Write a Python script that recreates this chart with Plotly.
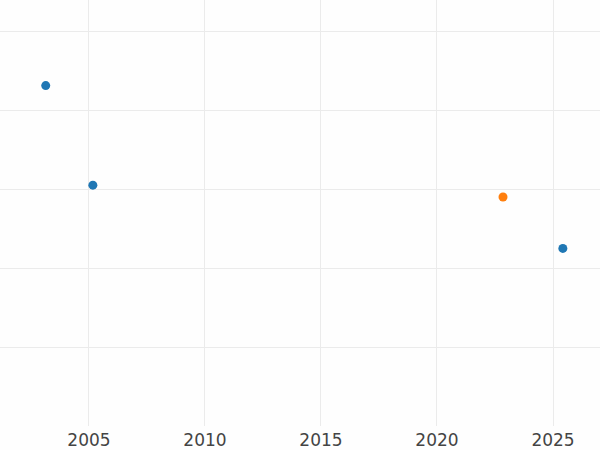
import plotly.graph_objects as go

# series (y axis has no labels, scale is arbitrary)
blue_dates = ["2003-02-20", "2005-03-03", "2025-06-05"]
blue_values = [43.1, 30.5, 22.5]
orange_dates = ["2022-11-06"]
orange_values = [29.0]

x_range = ["2001-03-02", "2027-01-11"]
y_range = [0.03, 53.93]

fig = go.Figure()
fig.add_trace(go.Scatter(
    x=blue_dates, y=blue_values, mode="markers",
    marker=dict(color="#1f77b4", size=9),
    showlegend=False,
))
fig.add_trace(go.Scatter(
    x=orange_dates, y=orange_values, mode="markers",
    marker=dict(color="#ff7f0e", size=9),
    showlegend=False,
))

fig.update_xaxes(
    type="date", range=x_range, dtick="M60", tick0="2005-01-01",
    tickformat="%Y", showgrid=True, gridcolor="#ebebeb", gridwidth=1,
    zeroline=False, showline=False, ticks="", automargin=False,
    ticklabelstandoff=2,
    tickfont=dict(family="DejaVu Sans", size=17, color="#444444"),
)
fig.update_yaxes(
    range=y_range, dtick=10, showticklabels=False, showgrid=True,
    gridcolor="#ebebeb", gridwidth=1, zeroline=False, showline=False,
    ticks="", automargin=False,
)

fig.update_layout(
    width=600, height=450,
    margin=dict(l=0, r=0, t=0, b=24),
    plot_bgcolor="#fefefe", paper_bgcolor="#fefefe",
)

# drop the browser's default page margin so the chart sits at the corner
fig.write_html(
    "out.html",
    config={"displayModeBar": False},
    post_script="document.body.style.margin='0';",
)
